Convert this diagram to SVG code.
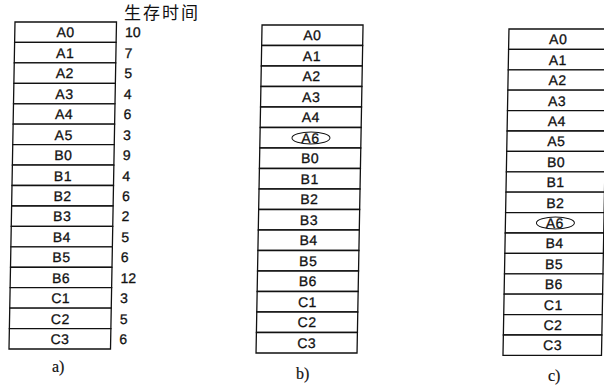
<svg xmlns="http://www.w3.org/2000/svg" width="604" height="387" viewBox="0 0 604 387">
<style>
.cell rect{fill:#fff;stroke:#111;stroke-width:1.3}
.lbl{font-family:"Liberation Sans",Arial,sans-serif;font-size:14px;letter-spacing:0.5px;text-anchor:middle;fill:#111;stroke:#111;stroke-width:0.3}
.num{font-family:"Liberation Sans",Arial,sans-serif;font-size:14px;fill:#111;stroke:#111;stroke-width:0.3}
.cap{font-family:"Liberation Serif","Times New Roman",serif;font-size:16px;fill:#111;stroke:#111;stroke-width:0.2}
.title{font-family:"Noto Sans CJK SC",sans-serif;font-size:17px;letter-spacing:2px;fill:#111}
.mark{fill:none;stroke:#111;stroke-width:1}
</style>
<rect width="604" height="387" fill="#fff"/>
<text class="title" x="124" y="19">生存时间</text>

<g id="column-a" transform="skewX(-1.05)">
<g id="a-A0" class="cell"><rect x="15.4" y="22" width="101.5" height="20.4"/><text class="lbl" x="66.2" y="37.5">A0</text><text class="num" x="125.6" y="37.5">10</text></g>
<g id="a-A1" class="cell"><rect x="15.4" y="42.4" width="101.5" height="20.4"/><text class="lbl" x="66.2" y="57.9">A1</text><text class="num" x="125.6" y="57.9">7</text></g>
<g id="a-A2" class="cell"><rect x="15.4" y="62.9" width="101.5" height="20.4"/><text class="lbl" x="66.2" y="78.4">A2</text><text class="num" x="125.6" y="78.4">5</text></g>
<g id="a-A3" class="cell"><rect x="15.4" y="83.3" width="101.5" height="20.4"/><text class="lbl" x="66.2" y="98.8">A3</text><text class="num" x="125.6" y="98.8">4</text></g>
<g id="a-A4" class="cell"><rect x="15.4" y="103.8" width="101.5" height="20.4"/><text class="lbl" x="66.2" y="119.3">A4</text><text class="num" x="125.6" y="119.3">6</text></g>
<g id="a-A5" class="cell"><rect x="15.4" y="124.2" width="101.5" height="20.4"/><text class="lbl" x="66.2" y="139.7">A5</text><text class="num" x="125.6" y="139.7">3</text></g>
<g id="a-B0" class="cell"><rect x="15.4" y="144.6" width="101.5" height="20.4"/><text class="lbl" x="66.2" y="160.1">B0</text><text class="num" x="125.6" y="160.1">9</text></g>
<g id="a-B1" class="cell"><rect x="15.4" y="165.1" width="101.5" height="20.4"/><text class="lbl" x="66.2" y="180.6">B1</text><text class="num" x="125.6" y="180.6">4</text></g>
<g id="a-B2" class="cell"><rect x="15.4" y="185.5" width="101.5" height="20.4"/><text class="lbl" x="66.2" y="201">B2</text><text class="num" x="125.6" y="201">6</text></g>
<g id="a-B3" class="cell"><rect x="15.4" y="206" width="101.5" height="20.4"/><text class="lbl" x="66.2" y="221.5">B3</text><text class="num" x="125.6" y="221.5">2</text></g>
<g id="a-B4" class="cell"><rect x="15.4" y="226.4" width="101.5" height="20.4"/><text class="lbl" x="66.2" y="241.9">B4</text><text class="num" x="125.6" y="241.9">5</text></g>
<g id="a-B5" class="cell"><rect x="15.4" y="246.8" width="101.5" height="20.4"/><text class="lbl" x="66.2" y="262.3">B5</text><text class="num" x="125.6" y="262.3">6</text></g>
<g id="a-B6" class="cell"><rect x="15.4" y="267.3" width="101.5" height="20.4"/><text class="lbl" x="66.2" y="282.8">B6</text><text class="num" x="125.6" y="282.8">12</text></g>
<g id="a-C1" class="cell"><rect x="15.4" y="287.7" width="101.5" height="20.4"/><text class="lbl" x="66.2" y="303.2">C1</text><text class="num" x="125.6" y="303.2">3</text></g>
<g id="a-C2" class="cell"><rect x="15.4" y="308.2" width="101.5" height="20.4"/><text class="lbl" x="66.2" y="323.7">C2</text><text class="num" x="125.6" y="323.7">5</text></g>
<g id="a-C3" class="cell"><rect x="15.4" y="328.6" width="101.5" height="20.4"/><text class="lbl" x="66.2" y="344.1">C3</text><text class="num" x="125.6" y="344.1">6</text></g>
</g>

<g id="column-b" transform="skewX(-1.05)">
<g id="b-A0" class="cell"><rect x="262.5" y="25" width="101" height="20.5"/><text class="lbl" x="313" y="40.5">A0</text></g>
<g id="b-A1" class="cell"><rect x="262.5" y="45.5" width="101" height="20.5"/><text class="lbl" x="313" y="61">A1</text></g>
<g id="b-A2" class="cell"><rect x="262.5" y="66" width="101" height="20.5"/><text class="lbl" x="313" y="81.5">A2</text></g>
<g id="b-A3" class="cell"><rect x="262.5" y="86.5" width="101" height="20.5"/><text class="lbl" x="313" y="102">A3</text></g>
<g id="b-A4" class="cell"><rect x="262.5" y="107" width="101" height="20.5"/><text class="lbl" x="313" y="122.5">A4</text></g>
<g id="b-A6" class="cell"><rect x="262.5" y="127.5" width="101" height="20.5"/><text class="lbl" x="313" y="143">A6</text><ellipse class="mark" cx="313.5" cy="138" rx="19" ry="6"/></g>
<g id="b-B0" class="cell"><rect x="262.5" y="148" width="101" height="20.5"/><text class="lbl" x="313" y="163.5">B0</text></g>
<g id="b-B1" class="cell"><rect x="262.5" y="168.5" width="101" height="20.5"/><text class="lbl" x="313" y="184">B1</text></g>
<g id="b-B2" class="cell"><rect x="262.5" y="189" width="101" height="20.5"/><text class="lbl" x="313" y="204.5">B2</text></g>
<g id="b-B3" class="cell"><rect x="262.5" y="209.5" width="101" height="20.5"/><text class="lbl" x="313" y="225">B3</text></g>
<g id="b-B4" class="cell"><rect x="262.5" y="230" width="101" height="20.5"/><text class="lbl" x="313" y="245.5">B4</text></g>
<g id="b-B5" class="cell"><rect x="262.5" y="250.5" width="101" height="20.5"/><text class="lbl" x="313" y="266">B5</text></g>
<g id="b-B6" class="cell"><rect x="262.5" y="271" width="101" height="20.5"/><text class="lbl" x="313" y="286.5">B6</text></g>
<g id="b-C1" class="cell"><rect x="262.5" y="291.5" width="101" height="20.5"/><text class="lbl" x="313" y="307">C1</text></g>
<g id="b-C2" class="cell"><rect x="262.5" y="312" width="101" height="20.5"/><text class="lbl" x="313" y="327.5">C2</text></g>
<g id="b-C3" class="cell"><rect x="262.5" y="332.5" width="101" height="20.5"/><text class="lbl" x="313" y="348">C3</text></g>
</g>

<g id="column-c" transform="skewX(-1.05)">
<g id="c-A0" class="cell"><rect x="509.5" y="29" width="98.5" height="20.4"/><text class="lbl" x="559" y="44.5">A0</text></g>
<g id="c-A1" class="cell"><rect x="509.5" y="49.4" width="98.5" height="20.4"/><text class="lbl" x="559" y="64.9">A1</text></g>
<g id="c-A2" class="cell"><rect x="509.5" y="69.8" width="98.5" height="20.4"/><text class="lbl" x="559" y="85.3">A2</text></g>
<g id="c-A3" class="cell"><rect x="509.5" y="90.2" width="98.5" height="20.4"/><text class="lbl" x="559" y="105.7">A3</text></g>
<g id="c-A4" class="cell"><rect x="509.5" y="110.6" width="98.5" height="20.4"/><text class="lbl" x="559" y="126.1">A4</text></g>
<g id="c-A5" class="cell"><rect x="509.5" y="131" width="98.5" height="20.4"/><text class="lbl" x="559" y="146.5">A5</text></g>
<g id="c-B0" class="cell"><rect x="509.5" y="151.4" width="98.5" height="20.4"/><text class="lbl" x="559" y="166.9">B0</text></g>
<g id="c-B1" class="cell"><rect x="509.5" y="171.8" width="98.5" height="20.4"/><text class="lbl" x="559" y="187.3">B1</text></g>
<g id="c-B2" class="cell"><rect x="509.5" y="192.2" width="98.5" height="20.4"/><text class="lbl" x="559" y="207.7">B2</text></g>
<g id="c-A6" class="cell"><rect x="509.5" y="212.6" width="98.5" height="20.4"/><text class="lbl" x="559" y="228.1">A6</text><ellipse class="mark" cx="559.5" cy="223" rx="19" ry="6"/></g>
<g id="c-B4" class="cell"><rect x="509.5" y="233" width="98.5" height="20.4"/><text class="lbl" x="559" y="248.5">B4</text></g>
<g id="c-B5" class="cell"><rect x="509.5" y="253.4" width="98.5" height="20.4"/><text class="lbl" x="559" y="268.9">B5</text></g>
<g id="c-B6" class="cell"><rect x="509.5" y="273.8" width="98.5" height="20.4"/><text class="lbl" x="559" y="289.3">B6</text></g>
<g id="c-C1" class="cell"><rect x="509.5" y="294.2" width="98.5" height="20.4"/><text class="lbl" x="559" y="309.7">C1</text></g>
<g id="c-C2" class="cell"><rect x="509.5" y="314.6" width="98.5" height="20.4"/><text class="lbl" x="559" y="330.1">C2</text></g>
<g id="c-C3" class="cell"><rect x="509.5" y="335" width="98.5" height="20.4"/><text class="lbl" x="559" y="350.5">C3</text></g>
</g>

<g id="connectors"/>

<text class="cap" x="52" y="372">a)</text>
<text class="cap" x="296" y="379">b)</text>
<text class="cap" x="548" y="381">c)</text>
</svg>
